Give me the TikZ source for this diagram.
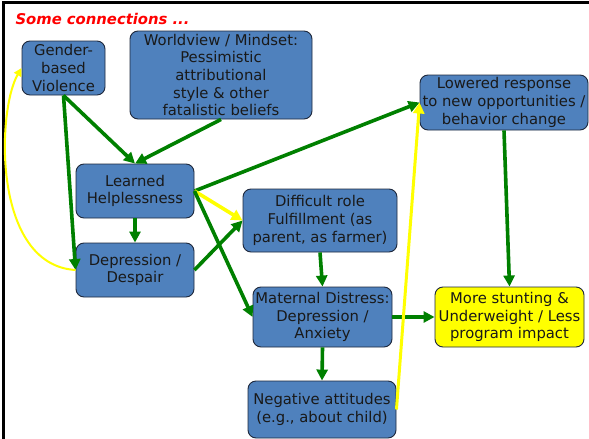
\documentclass[tikz,border=0pt]{standalone}
\usepackage{fontspec}
\setmainfont{DejaVu Sans}
\usetikzlibrary{arrows.meta}
\definecolor{boxblue}{RGB}{79,129,189}
\definecolor{arrgreen}{RGB}{0,128,0}
\definecolor{arryellow}{RGB}{255,255,0}
\definecolor{boxline}{RGB}{30,40,60}
\definecolor{titlered}{RGB}{255,0,0}
\tikzset{
  box/.style={draw=boxline, line width=0.9pt, fill=boxblue, rounded corners=8pt,
    align=center, inner sep=0pt, font=\fontsize{14.8}{17.6}\selectfont, text=black!90},
  garrow/.style={draw=arrgreen, line width=3.6pt, -{Triangle[length=11pt,width=11pt]}},
  yarrow/.style={draw=arryellow, line width=3.6pt, -{Triangle[length=11pt,width=11pt]}},
  ythin/.style={draw=arryellow, line width=2pt, -{Triangle[length=8pt,width=8pt]}}
}
\begin{document}
\begin{tikzpicture}[x=1pt,y=-1pt]
\useasboundingbox (0,0) rectangle (589,439);
\fill[white] (0,0) rectangle (589,439);
\draw[line width=3pt] (3.5,440) -- (3.5,2.5) -- (590,2.5);

\node[anchor=base west, text=titlered, font=\fontsize{14.8}{17}\selectfont\bfseries\itshape] (title) at (12,24) {Some connections ...};

\node[box, minimum width=83pt, minimum height=54pt] (gbv) at (63.5,68) {Gender-\\based\\Violence};
\node[box, minimum width=182pt, minimum height=88pt] (world) at (221,75) {Worldview / Mindset:\\Pessimistic\\attributional\\style \& other\\fatalistic beliefs};
\node[box, minimum width=118pt, minimum height=54pt] (learn) at (135,191) {Learned\\Helplessness};
\node[box, minimum width=118pt, minimum height=54pt] (depr) at (135,270) {Depression /\\Despair};
\node[box, minimum width=154pt, minimum height=63pt] (diff) at (320,220.5) {Difficult role\\Fulfillment (as\\parent, as farmer)};
\node[box, minimum width=168pt, minimum height=55pt] (low) at (504,102.5) {Lowered response\\to new opportunities /\\behavior change};
\node[box, minimum width=139pt, minimum height=60pt] (mat) at (322.5,317) {Maternal Distress:\\Depression /\\Anxiety};
\node[box, fill=arryellow, minimum width=149pt, minimum height=60pt] (stunt) at (509.5,317) {More stunting \&\\Underweight / Less\\program impact};
\node[box, minimum width=148pt, minimum height=57pt] (neg) at (322,409.5) {Negative attitudes\\(e.g., about child)};

\draw[garrow] (gbv.south) -- (learn.north);
\draw[garrow] (world.south) -- (learn.north);
\draw[garrow] (gbv.south) -- (depr.west);
\draw[garrow] (learn.south) -- (depr.north);
\draw[garrow] (learn.east) -- (low.west);
\draw[yarrow] (learn.east) -- (diff.west);
\draw[garrow] (learn.east) -- (mat.west);
\draw[garrow] (depr.east) -- (diff.west);
\draw[garrow] (diff.south) -- (mat.north);
\draw[garrow] (mat.east) -- (stunt.west);
\draw[garrow] (mat.south) -- (neg.north);
\draw[garrow] (low.south) -- (stunt.north);
\draw[yarrow, line width=3pt] (neg.east) -- (low.west);
\draw[ythin] (depr.west) .. controls (-8,265) and (-3,110) .. (gbv.west);
\end{tikzpicture}
\end{document}
